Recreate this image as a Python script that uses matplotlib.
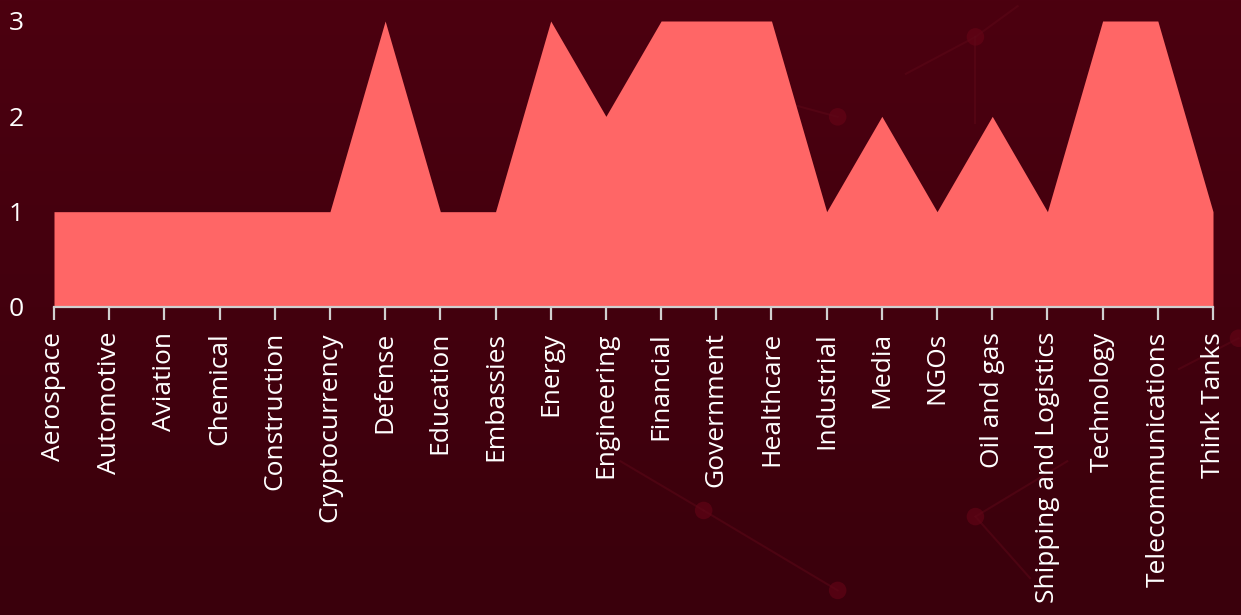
import numpy as np
import matplotlib
matplotlib.use("Agg")
import matplotlib.pyplot as plt

categories = ["Aerospace", "Automotive", "Aviation", "Chemical", "Construction",
              "Cryptocurrency", "Defense", "Education", "Embassies", "Energy",
              "Engineering", "Financial", "Government", "Healthcare", "Industrial",
              "Media", "NGOs", "Oil and gas", "Shipping and Logistics", "Technology",
              "Telecommunications", "Think Tanks"]
values = [1, 1, 1, 1, 1, 1, 3, 1, 1, 3, 2, 3, 3, 3, 1, 2, 1, 2, 1, 3, 3, 1]
y_ticks = [0, 1, 2, 3]

W, H = 1241, 615
fig = plt.figure(figsize=(W / 100, H / 100), dpi=100)

# background gradient
bg = fig.add_axes([0, 0, 1, 1], zorder=-10)
grad = np.linspace(0, 1, 256).reshape(-1, 1)
top = np.array([0x4c, 0x00, 0x10]) / 255
bot = np.array([0x3a, 0x00, 0x0c]) / 255
img = top[None, None, :] * (1 - grad[..., None]) + bot[None, None, :] * grad[..., None]
bg.imshow(img, aspect="auto", extent=[0, 1, 0, 1], origin="upper")
# faint network decoration
deco_lines = [((0.786, 0.94), (0.82, 0.99)), ((0.786, 0.94), (0.73, 0.88)),
              ((0.786, 0.94), (0.786, 0.80)), ((0.675, 0.81), (0.62, 0.84)),
              ((0.567, 0.17), (0.675, 0.04)), ((0.567, 0.17), (0.50, 0.25)),
              ((0.786, 0.16), (0.86, 0.25)), ((0.786, 0.16), (0.83, 0.06)),
              ((0.998, 0.45), (0.95, 0.40))]
for (x0, y0), (x1, y1) in deco_lines:
    bg.plot([x0, x1], [y0, y1], color="#5e0818", lw=1.5, alpha=0.5)
deco_pts = [(0.786, 0.94), (0.675, 0.81), (0.567, 0.17), (0.675, 0.04),
            (0.786, 0.16), (0.998, 0.45)]
for x, y in deco_pts:
    bg.scatter([x], [y], s=160, color="#6e0518", alpha=0.5, edgecolors="none")
bg.set_xlim(0, 1)
bg.set_ylim(0, 1)
bg.axis("off")

left, right = 54 / W, 1213 / W
bottom, topy = (H - 307) / H, (H - 21) / H
ax = fig.add_axes([left, bottom, right - left, topy - bottom])
ax.patch.set_alpha(0)

x = np.arange(len(categories))
ax.fill_between(x, 0, values, color="#ff6666", linewidth=0)
ax.set_xlim(0, len(categories) - 1)
ax.set_ylim(0, 3)

font = "Open Sans"
ax.set_xticks(x)
ax.set_xticklabels(categories, rotation=90, fontsize=19, color="white", family=font)
ax.set_yticks(y_ticks)
ax.set_yticklabels([str(v) for v in y_ticks], fontsize=19, color="white", family=font)

for s in ["top", "right", "left"]:
    ax.spines[s].set_visible(False)
ax.spines["bottom"].set_color("#d0d0d0")
ax.spines["bottom"].set_linewidth(1.6)
ax.tick_params(axis="x", direction="out", length=9, width=1.6, color="#d0d0d0", pad=9)
ax.tick_params(axis="y", length=0, pad=22)
for lbl in ax.get_yticklabels():
    lbl.set_horizontalalignment("right")

fig.savefig("out.png", dpi=100, facecolor="#4a0010")
